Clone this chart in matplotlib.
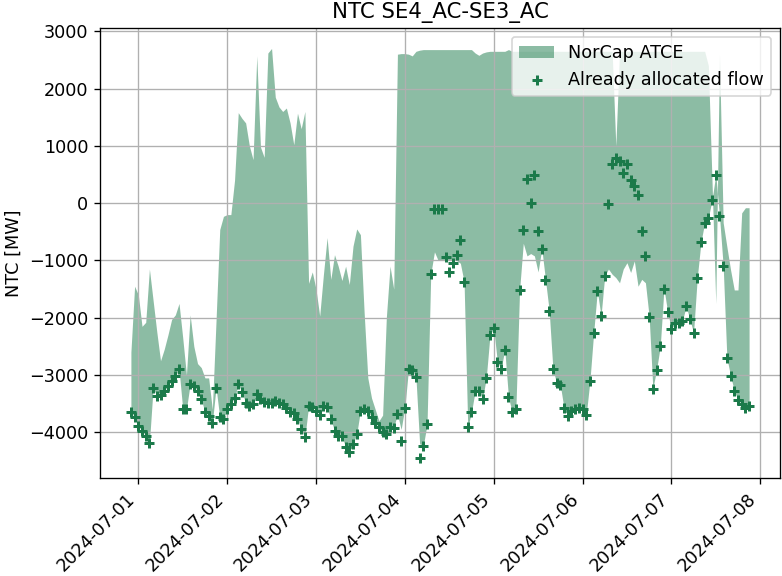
import matplotlib
matplotlib.use("Agg")
import matplotlib.pyplot as plt
import matplotlib.dates as mdates
import numpy as np
import pandas as pd

# hourly values, 2024-06-30 22:00 -> 2024-07-07 21:00
start = "2024-06-30 22:00"

# already allocated flow [MW]
flow = [
    -3640, -3730, -3890, -3970, -4060, -4180, -3220, -3370, -3350, -3280,
    -3190, -3100, -3020, -2900, -3595, -3595, -3160, -3200, -3270, -3420,
    -3650, -3710, -3830, -3220, -3740, -3770, -3600, -3500, -3400, -3160,
    -3300, -3480, -3540, -3500, -3330, -3420, -3470, -3480, -3480, -3460,
    -3480, -3510, -3580, -3650, -3660, -3770, -3950, -4090, -3540, -3560,
    -3620, -3700, -3540, -3560, -3770, -3970, -4060, -4060, -4260, -4350,
    -4200, -4030, -3620, -3600, -3620, -3740, -3830, -3915, -4000, -4030,
    -3910, -3920, -3680, -4150, -3570, -2890, -2910, -3040, -4440, -4230,
    -3860, -1240, -110, -110, -110, -935, -1195, -1040, -900, -650,
    -1370, -3915, -3650, -3275, -3275, -3420, -3045, -2305, -2180, -2770,
    -2890, -2560, -3390, -3650, -3595, -1515, -460, 425, 0, 500,
    -490, -795, -1340, -1880, -2895, -3140, -3175, -3580, -3710, -3625,
    -3595, -3570, -3600, -3700, -3100, -2270, -1530, -1970, -1270, -20,
    680, 790, 730, 530, 680, 410, 300, 150, -490, -920,
    -1980, -3235, -2910, -2500, -1490, -1900, -2200, -2090, -2090, -2050,
    -1800, -2030, -2260, -1300, -680, -340, -255, 60, 500, -220,
    -1095, -2700, -3015, -3275, -3430, -3510, -3570, -3540,
]

# NorCap ATCE, upper edge [MW]
atce_max = [
    -2600, -1450, -1600, -2150, -2080, -1150, -1700, -2250, -2750, -2550,
    -2300, -2030, -1950, -1750, -2350, -3000, -1950, -2500, -2800, -2870,
    -3050, -3050, -3600, -2050, -460, -230, -200, -200, 400, 1580,
    1480, 1400, 1000, 760, 2570, 980, 800, 2620, 2700, 1850,
    1680, 1600, 1660, 1400, 1020, 1570, 1300, 1600, -1400, -1200,
    -1500, -1970, -1250, -600, -1330, -900, -1100, -1350, -1100, -1420,
    -750, -450, -550, -1900, -3050, -3400, -3600, -3800, -3700, -2000,
    -1100, -1500, 2600, 2610, 2610, 2600, 2570, 2650, 2670, 2680,
    2680, 2680, 2680, 2680, 2680, 2680, 2680, 2680, 2680, 2680,
    2680, 2680, 2680, 2620, 2580, 2620, 2640, 2650, 2650, 2650,
    2650, 2650, 2680, 2650, 2650, 2650, 2650, 2650, 2650, 2650,
    2650, 2650, 2650, 2650, 2650, 2650, 2650, 2650, 2650, 2650,
    2650, 2650, 2650, 2650, 2650, 2650, 2650, 2650, 2650, 2650,
    2650, 1000, 2650, 2650, 2650, 2650, 2650, 2650, 2650, 2650,
    2650, 2650, 2650, 2650, 2650, 2650, 2650, 2650, 2650, 2650,
    2650, 2650, 2650, 2650, 2650, 2650, 2400, 350, -1750, 2600,
    -340, -760, -1165, -1515, -1515, -170, -80, -80,
]

# NorCap ATCE, lower edge [MW]
atce_min = list(flow)
atce_min[73] = -3950
atce_min[78] = -4200
for i, v in zip(range(82, 90), [-850, -1000, -1000, -1000, -1000, -1000, -1000, -1050]):
    atce_min[i] = v
for i, v in zip(range(106, 111), [-700, -920, -880, -920, -1200]):
    atce_min[i] = v
for i, v in zip(range(129, 140), [-1150, -1240, -1300, -1390, -1150, -1040,
                                  -1210, -1010, -1450, -1330, -1390]):
    atce_min[i] = v

times = pd.date_range(start, periods=len(flow), freq="h")
color = "#1b7a4a"

plt.rcParams["font.size"] = 10.6

fig, ax = plt.subplots(figsize=(7.82 / 1.2, 5.76 / 1.2), dpi=120)
fig.subplots_adjust(left=100 / 782, right=780 / 782, top=1 - 28 / 576, bottom=1 - 478 / 576)
ax.fill_between(times, atce_min, atce_max, color=color, alpha=0.5,
                linewidth=0, label="NorCap ATCE")
ax.scatter(times, flow, marker="+", s=42, linewidths=1.8, color=color,
           label="Already allocated flow", zorder=3)

ax.set_title("NTC SE4_AC-SE3_AC")
ax.set_ylabel("NTC [MW]")
ax.xaxis.set_major_locator(mdates.DayLocator())
ax.xaxis.set_major_formatter(mdates.DateFormatter("%Y-%m-%d"))
plt.setp(ax.get_xticklabels(), rotation=45, ha="right")
ax.grid(True)
ax.legend(loc="upper right")
fig.savefig("out.png")
